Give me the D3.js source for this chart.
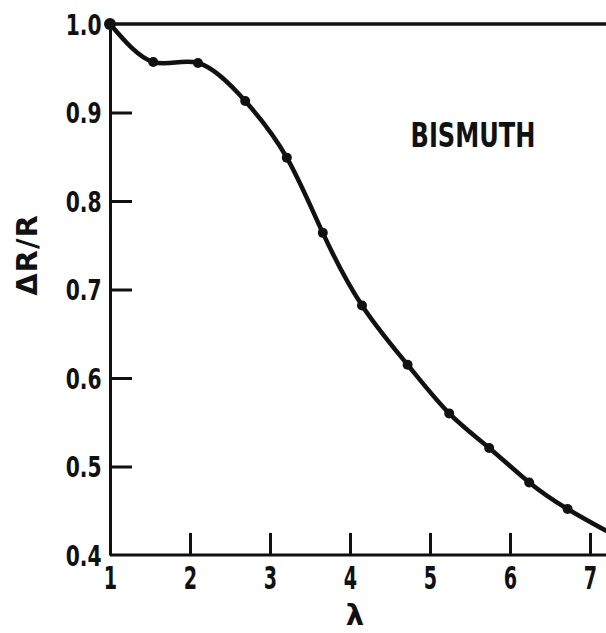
<!DOCTYPE html>
<html>
<head>
<meta charset="utf-8">
<script src="https://cdn.jsdelivr.net/npm/d3@7"></script>
<style>
  html, body { margin: 0; padding: 0; background: #fff; overflow: hidden; }
  text { font-family: "DejaVu Sans", "Liberation Sans", sans-serif; font-weight: bold; fill: #111; }
</style>
</head>
<body>
<div id="chart"></div>
<script>
// measured points (lambda, dR/R)
const lambda = [1.0, 1.54, 2.1, 2.69, 3.21, 3.66, 4.15, 4.72, 5.24, 5.74, 6.24, 6.72];
const ratio  = [1.0, 0.957, 0.956, 0.913, 0.849, 0.764, 0.682, 0.615, 0.560, 0.521, 0.482, 0.452];
// curve carries on past the right edge
const tailLambda = [7.25];
const tailRatio = [0.425];

const xTicks = [1, 2, 3, 4, 5, 6, 7];
const yTicks = [0.4, 0.5, 0.6, 0.7, 0.8, 0.9, 1.0];

function draw() {
  const container = d3.select("#chart");
  container.selectAll("*").remove();

  const width = 606, height = 633;

  const svg = container.append("svg")
    .attr("width", width)
    .attr("height", height);

  const x = d3.scaleLinear().domain([1, 7]).range([110, 590]);
  const y = d3.scaleLinear().domain([0.4, 1.0]).range([555, 24]);

  const ink = "#111";

  // y axis, ticks pointing inward
  const gy = svg.append("g")
    .attr("transform", `translate(${x(1)},0)`)
    .call(d3.axisLeft(y).tickValues(yTicks).tickFormat(d3.format(".1f"))
      .tickSizeInner(-22).tickSizeOuter(0).tickPadding(10));
  gy.select(".domain").attr("stroke", ink).attr("stroke-width", 3);
  gy.selectAll(".tick line")
    .attr("stroke", ink).attr("stroke-width", 3)
    .attr("display", d => (d === 0.4 || d === 1.0) ? "none" : null);
  gy.selectAll(".tick text")
    .attr("font-size", 29)
    .attr("x", -12)
    .attr("dy", "0.36em")
    .attr("transform", "scale(0.7,1)");

  // x axis, ticks pointing up
  const gx = svg.append("g")
    .attr("transform", `translate(0,${y(0.4)})`)
    .call(d3.axisBottom(x).tickValues(xTicks).tickFormat(d3.format("d"))
      .tickSizeInner(-22).tickSizeOuter(0));
  gx.select(".domain").attr("stroke", ink).attr("stroke-width", 3)
    .attr("d", `M${x(1)},0H${width + 5}`);
  gx.selectAll(".tick line")
    .attr("stroke", ink).attr("stroke-width", 3)
    .attr("display", d => d === 1 ? "none" : null);
  gx.selectAll(".tick text")
    .attr("font-size", 32)
    .attr("y", 34)
    .attr("dy", 0)
    .attr("transform", "scale(0.6,1)");

  // reference line at 1.0
  svg.append("line")
    .attr("x1", x(1)).attr("x2", width + 5)
    .attr("y1", y(1.0)).attr("y2", y(1.0))
    .attr("stroke", ink).attr("stroke-width", 3.5);

  // curve
  const pts = lambda.map((l, i) => [l, ratio[i]])
    .concat(tailLambda.map((l, i) => [l, tailRatio[i]]));
  const line = d3.line()
    .x(d => x(d[0])).y(d => y(d[1]))
    .curve(d3.curveNatural);

  svg.append("path")
    .datum(pts)
    .attr("d", line)
    .attr("fill", "none")
    .attr("stroke", ink)
    .attr("stroke-width", 4.5)
    .attr("stroke-linejoin", "round");

  svg.selectAll(".dot")
    .data(lambda.map((l, i) => [l, ratio[i]]))
    .enter()
    .append("circle")
    .attr("class", "dot")
    .attr("cx", d => x(d[0]))
    .attr("cy", d => y(d[1]))
    .attr("r", d => d[0] === 1 ? 6 : 5)
    .attr("fill", ink);

  // labels
  svg.append("text")
    .attr("transform", "translate(473,147) scale(0.71,1)")
    .attr("text-anchor", "middle")
    .attr("font-size", 34)
    .text("BISMUTH");

  svg.append("text")
    .attr("transform", "translate(37,255) rotate(-90)")
    .attr("text-anchor", "middle")
    .attr("font-size", 29)
    .attr("letter-spacing", 1)
    .text("ΔR/R");

  svg.append("text")
    .attr("x", 355).attr("y", 625)
    .attr("text-anchor", "middle")
    .attr("font-size", 29)
    .text("λ");
}

draw();
</script>
</body>
</html>
